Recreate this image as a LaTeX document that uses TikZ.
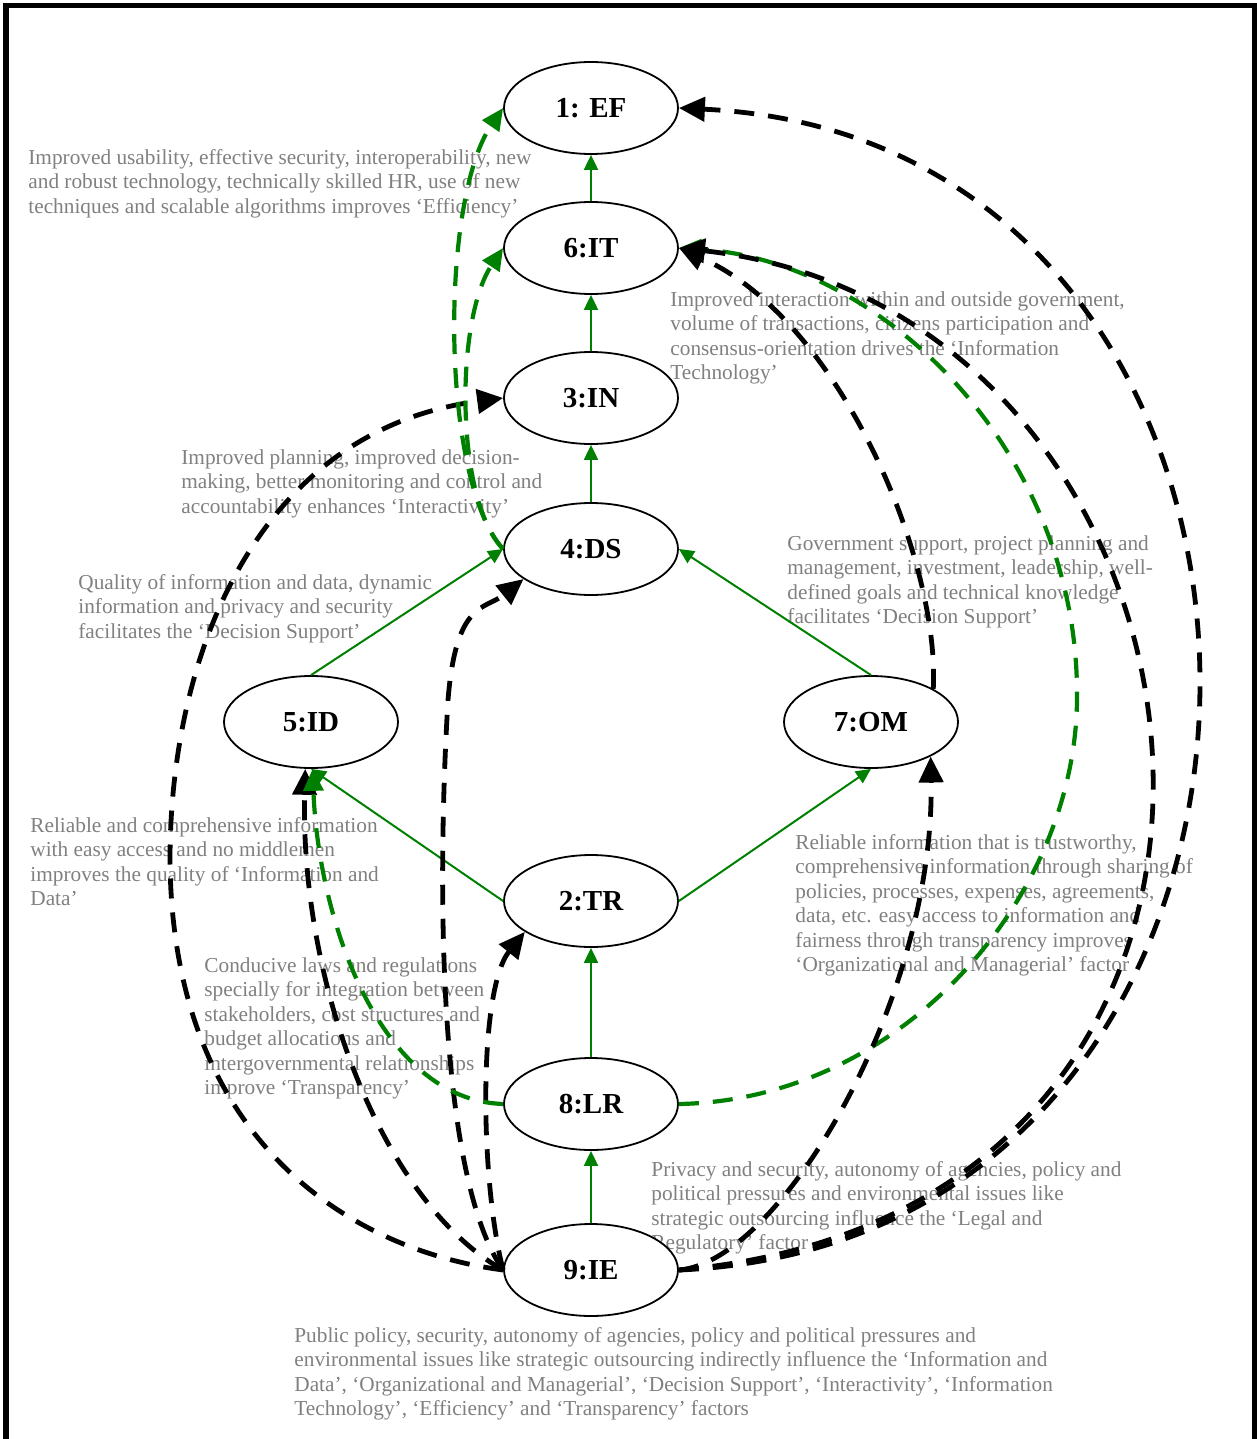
\documentclass[tikz,border=0pt]{standalone}
\usepackage{fontspec}
\setmainfont{Liberation Serif}
\usetikzlibrary{arrows.meta,shapes.geometric}
\definecolor{edgegreen}{RGB}{0,128,0}
\definecolor{notegray}{RGB}{128,128,128}

\begin{document}
\begin{tikzpicture}[x=0.5pt,y=-0.5pt,
  factor/.style={draw, line width=0.9pt, ellipse, fill=white,
    minimum width=87pt, minimum height=46pt, inner sep=0pt,
    font=\fontsize{14.5}{16}\selectfont\bfseries},
  note/.style={anchor=north west, inner sep=0pt, align=left, text=notegray,
    font=\fontsize{10.65}{12.25}\selectfont},
  link/.style={edgegreen, line width=1pt, -{Triangle[length=7.5pt,width=7pt]}},
  blackdash/.style={black, line width=2.4pt, dash pattern=on 10pt off 7pt,
    -{Triangle[length=13pt,width=12pt]}},
  greendash/.style={edgegreen, line width=2.1pt, dash pattern=on 10pt off 7pt,
    -{Triangle[length=11pt,width=10pt]}}]

\useasboundingbox (0,0) rectangle (1257,1439);
% outer frame, open at the foot of the page
\draw[line width=2.6pt] (6,1470) -- (6,5.5) -- (1254.5,5.5) -- (1254.5,1470);

% explanatory notes
\node[note] (n1) at (28,149) {Improved usability, effective security, interoperability, new\\and robust technology, technically skilled HR, use of new\\techniques and scalable algorithms improves ‘Efficiency’};
\node[note] (n2) at (670,291) {Improved interaction within and outside government,\\volume of transactions, citizens participation and\\consensus-orientation drives the ‘Information\\Technology’};
\node[note] (n3) at (181,449) {Improved planning, improved decision-\\making, better monitoring and control and\\accountability enhances ‘Interactivity’};
\node[note] (n4) at (78,574) {Quality of information and data, dynamic\\information and privacy and security\\facilitates the ‘Decision Support’};
\node[note] (n5) at (787,535) {Government support, project planning and\\management, investment, leadership, well-\\defined goals and technical knowledge\\facilitates ‘Decision Support’};
\node[note] (n6) at (30,817) {Reliable and comprehensive information\\with easy access and no middlemen\\improves the quality of ‘Information and\\Data’};
\node[note] (n7) at (795,834) {Reliable information that is trustworthy,\\comprehensive information through sharing of\\policies, processes, expenses, agreements,\\data, etc. easy access to information and\\fairness through transparency improves\\‘Organizational and Managerial’ factor};
\node[note] (n8) at (204,957) {Conducive laws and regulations\\specially for integration between\\stakeholders, cost structures and\\budget allocations and\\intergovernmental relationships\\improve ‘Transparency’};
\node[note] (n9) at (651,1161) {Privacy and security, autonomy of agencies, policy and\\political pressures and environmental issues like\\strategic outsourcing influence the ‘Legal and\\Regulatory’ factor};
\node[note] (n10) at (294,1327) {Public policy, security, autonomy of agencies, policy and political pressures and\\environmental issues like strategic outsourcing indirectly influence the ‘Information and\\Data’, ‘Organizational and Managerial’, ‘Decision Support’, ‘Interactivity’, ‘Information\\Technology’, ‘Efficiency’ and ‘Transparency’ factors};

% factors
\node[factor] (f1) at (591,108) {1: EF};
\node[factor] (f6) at (591,248) {6:IT};
\node[factor] (f3) at (591,398) {3:IN};
\node[factor] (f4) at (591,549) {4:DS};
\node[factor] (f5) at (311,722) {5:ID};
\node[factor] (f7) at (871,722) {7:OM};
\node[factor] (f2) at (591,901) {2:TR};
\node[factor] (f8) at (591,1104) {8:LR};
\node[factor] (f9) at (591,1270) {9:IE};

% direct influences
\draw[link] (f6) -- (f1);
\draw[link] (f3) -- (f6);
\draw[link] (f4) -- (f3);
\draw[link] (f5.north) -- (f4.west);
\draw[link] (f7.north) -- (f4.east);
\draw[link] (f2.west) -- (f5.south);
\draw[link] (f2.east) -- (f7.south);
\draw[link] (f8) -- (f2);
\draw[link] (f9) -- (f8);

% legal and regulatory factor towards information technology
\draw[greendash] (f8.east) .. controls (900,1100) and (1075,900) .. (1077,700)
  .. controls (1080,450) and (880,260) .. (f6.east);

% indirect influences of the environment
\draw[blackdash] (f9.east) .. controls (1370,1240) and (1369,141) .. (f1.east);
\draw[blackdash] (f7.28) .. controls (940,560) and (840,320) .. (f6.east);
\draw[blackdash] (f9.east) .. controls (1360,1210) and (1253,311) .. (f6.east);
\draw[blackdash] (f9.east) .. controls (780,1262) and (935,1000) .. (f7.-30);
\draw[blackdash] (f9.west) .. controls (350,1250) and (172,1140) .. (170,860)
  .. controls (170,650) and (260,430) .. (f3.west);
\draw[blackdash] (f9.west) .. controls (380,1200) and (300,980) .. (f5.263);
\draw[blackdash] (f9.west) .. controls (440,1180) and (436,900) .. (448,700)
  .. controls (456,600) and (485,610) .. (f4.204);
\draw[blackdash] (f9.west) .. controls (480,1180) and (478,990) .. (f2.205);

% decision support towards efficiency and information technology
\draw[greendash] (f4.west) .. controls (440,480) and (440,200) .. (f1.west);
\draw[greendash] (f4.west) .. controls (455,500) and (455,320) .. (f6.west);
% legal and regulatory factor towards information and data
\draw[greendash] (f8.west) .. controls (380,1100) and (318,920) .. (f5.272);

\end{tikzpicture}
\end{document}
